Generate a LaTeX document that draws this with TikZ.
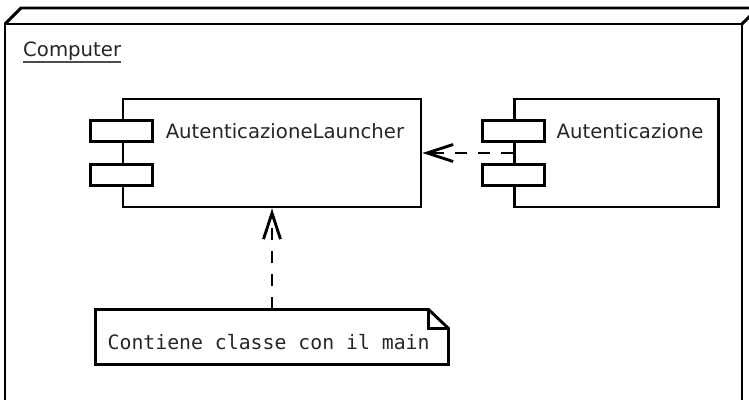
\documentclass[tikz,border=0pt]{standalone}
\usepackage{fontspec}
\setmainfont{DejaVu Sans}
\setmonofont{DejaVu Sans Mono}
\usepackage{tikz}
\usetikzlibrary{arrows.meta,positioning}
\usetikzlibrary{calc}
\tikzset{
umlline/.style={
  line width=2.9pt, draw=black
  },
component/.style={
  rectangle, draw=black, line width=2.9pt, fill=white,
  inner sep=0pt, minimum height=108pt
  },
port/.style={
  rectangle, draw=black, line width=2.9pt, fill=white,
  inner sep=0pt, minimum width=62pt, minimum height=21pt
  },
complabel/.style={
  inner sep=0pt, text=black!85, font=\fontsize{19.7pt}{24pt}\selectfont
  },
notelabel/.style={
  inner sep=0pt, text=black!85, font=\ttfamily\fontsize{19.8pt}{24pt}\selectfont
  },
notebox/.style={
  rectangle, inner sep=0pt, outer sep=0pt,
  minimum width=353pt, minimum height=55pt
  },
dep/.style={
  line width=2.9pt, dash pattern=on 12pt off 11pt,
  -{Straight Barb[length=26pt,width=17pt,line width=2.9pt]}
  }
}

\begin{document}
\begin{tikzpicture}[x=1pt,y=-1pt]
\useasboundingbox (0,0) rectangle (749,399);

% node Computer
\begin{scope}
\clip (0,0) rectangle (749,399);
\draw[umlline, line join=miter] (5,430) -- (5,24) -- (742,24) -- (742,430);
\draw[umlline, line join=miter] (5,24) -- (21,8) -- (758,8) -- (742,24);
\draw[umlline] (758,8) -- (758,430);
\end{scope}

\node[complabel, anchor=base west] (computer) at (23,56) {Computer};
\draw[line width=1.3pt, black!70] ([yshift=-6pt]computer.base west)
  -- ([yshift=-6pt]computer.base east);

% component 1
\node[component, minimum width=298pt] (comp1) at (272,153) {};
\node[port] (comp1-p1) at ([yshift=22pt]comp1.west) {};
\node[port] (comp1-p2) at ([yshift=-22pt]comp1.west) {};
\node[complabel, anchor=base west] (comp1-name)
  at ([xshift=44pt, yshift=-41pt]comp1.north west) {AutenticazioneLauncher};

% component 2
\node[component, minimum width=204pt, right=91pt of comp1] (comp2) {};
\node[port] (comp2-p1) at ([yshift=22pt]comp2.west) {};
\node[port] (comp2-p2) at ([yshift=-22pt]comp2.west) {};
\node[complabel, anchor=base west] (comp2-name)
  at ([xshift=43pt, yshift=-41pt]comp2.north west) {Autenticazione};

% note
\node[notebox, below=101pt of comp1] (note) {};
\draw[umlline, line join=miter] (note.south west) -- (note.north west)
  -- ([xshift=-20pt]note.north east) -- ([yshift=-19pt]note.north east)
  -- (note.south east) -- cycle;
\draw[umlline, line join=miter] ([xshift=-20pt]note.north east)
  -- ([xshift=-20pt, yshift=-19pt]note.north east)
  -- ([yshift=-19pt]note.north east);
\node[notelabel, anchor=base west] (note-text)
  at ([xshift=12pt, yshift=15pt]note.south west) {Contiene classe con il main};

% dependencies
\draw[dep] (comp2.west) -- (comp1.east);
\draw[dep] (note.north) -- (comp1.south);

\end{tikzpicture}
\end{document}
